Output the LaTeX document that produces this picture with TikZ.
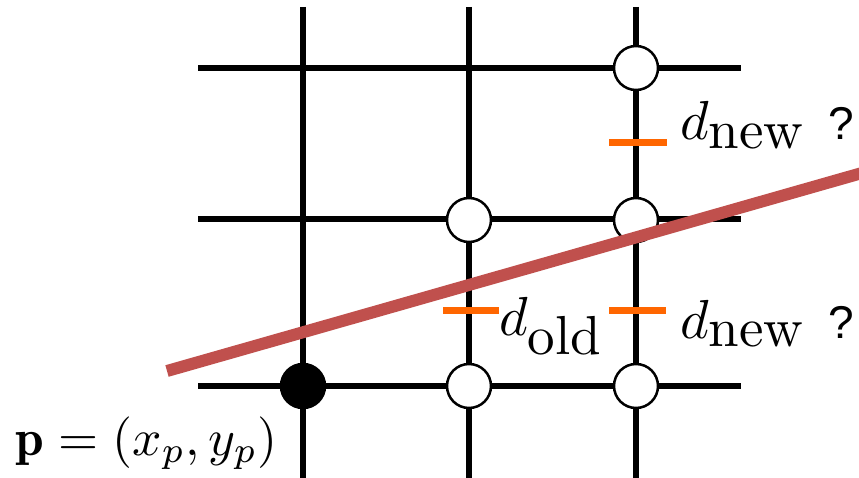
\documentclass[tikz,border=0pt]{standalone}
\usepackage{fontspec}
\newfontfamily\qfont{Liberation Sans}
\definecolor{linered}{RGB}{192,80,77}
\definecolor{tickorange}{RGB}{255,102,0}
\tikzset{
  gridline/.style={line width=6pt, black},
  gridpt/.style={circle, draw=black, line width=2.5pt, fill=white, minimum size=44pt, inner sep=0pt},
  filledpt/.style={gridpt, fill=black},
  tick/.style={line width=7pt, tickorange},
  bigtext/.style={anchor=base west, inner sep=0pt},
}
\newcommand{\qmark}{{\qfont\fontsize{46}{50}\selectfont ?}}
\begin{document}
\begin{tikzpicture}[x=1pt,y=-1pt]
\useasboundingbox (0,0) rectangle (859,478);
% grid line ends
\coordinate (v1t) at (303,7);  \coordinate (v1b) at (303,478);
\coordinate (v2t) at (469,7);  \coordinate (v2b) at (469,478);
\coordinate (v3t) at (636,7);  \coordinate (v3b) at (636,478);
\coordinate (h1l) at (198,68);  \coordinate (h1r) at (741,68);
\coordinate (h2l) at (198,219); \coordinate (h2r) at (741,219);
\coordinate (h3l) at (198,386); \coordinate (h3r) at (741,386);
\draw[gridline] (v1t) -- (v1b);
\draw[gridline] (v2t) -- (v2b);
\draw[gridline] (v3t) -- (v3b);
\draw[gridline] (h1l) -- (h1r);
\draw[gridline] (h2l) -- (h2r);
\draw[gridline] (h3l) -- (h3r);
% grid points
\node[gridpt] (n13) at (636,68) {};
\node[gridpt] (n22) at (469,220) {};
\node[gridpt] (n23) at (636,220) {};
\node[gridpt] (n32) at (469,386) {};
\node[gridpt] (n33) at (636,386) {};
\node[filledpt] (p) at (303,386) {};
% distance ticks
\coordinate (t1l) at (609,143); \coordinate (t1r) at (667,143);
\coordinate (t2l) at (443,310); \coordinate (t2r) at (499,310);
\coordinate (t3l) at (609,310); \coordinate (t3r) at (666,310);
\draw[tick] (t1l) -- (t1r);
\draw[tick] (t2l) -- (t2r);
\draw[tick] (t3l) -- (t3r);
% line
\coordinate (la) at (167,371);
\coordinate (lb) at (862,173);
\draw[line width=12pt, linered] (la) -- (lb);
% labels
\node[bigtext] (dnew1) at (680,140) {\scalebox{5.5}{$d_{\textstyle\mathrm{new}}$}\hspace{22pt}\qmark};
\node[bigtext] (dold) at (499,335) {\scalebox{5.5}{$d_{\textstyle\mathrm{old}}$}};
\node[bigtext] (dnew2) at (680,338) {\scalebox{5.5}{$d_{\textstyle\mathrm{new}}$}\hspace{22pt}\qmark};
\node[bigtext] (plabel) at (15,455) {\scalebox{5.15}{$\mathbf{p}=(x_p,y_p)$}};
\end{tikzpicture}
\end{document}
